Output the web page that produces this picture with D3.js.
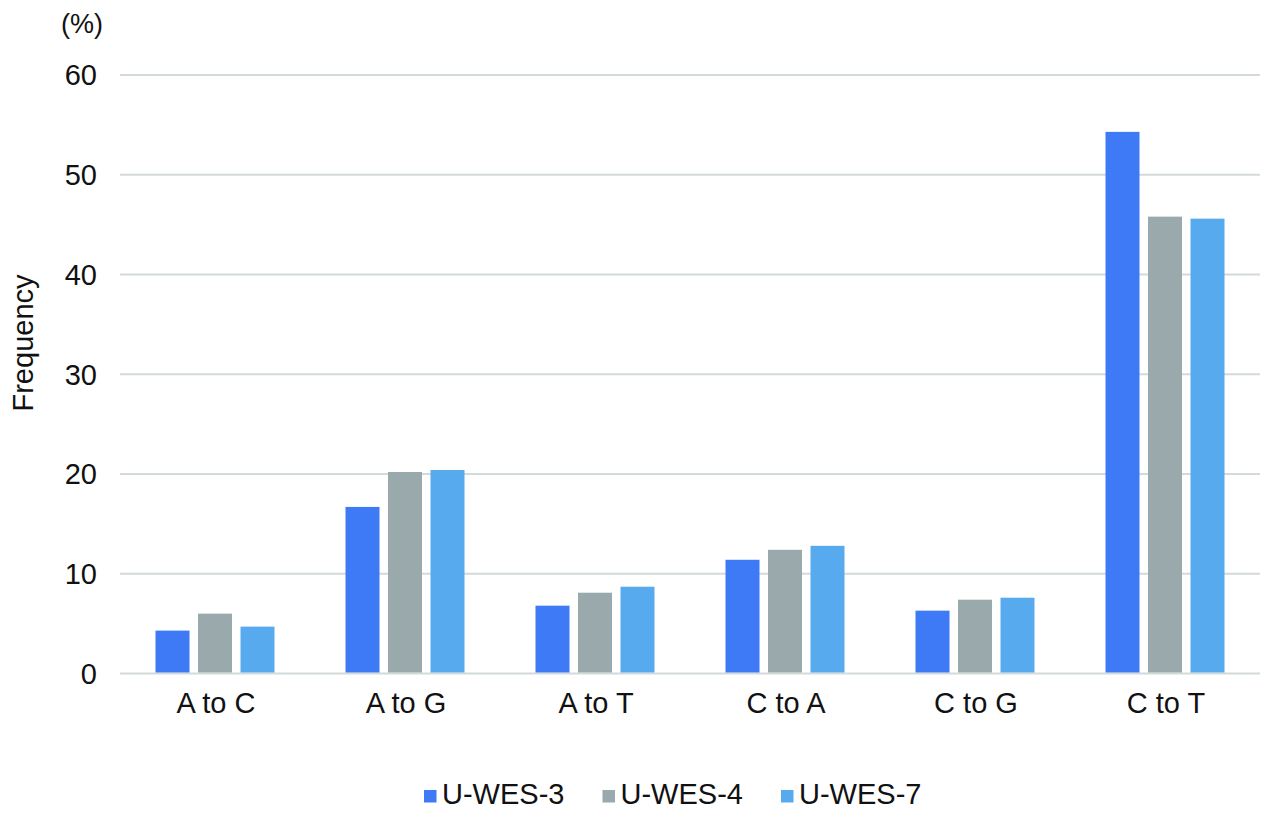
<!DOCTYPE html>
<html>
<head>
<meta charset="utf-8">
<script src="https://cdn.jsdelivr.net/npm/d3@7"></script>
<style>
  html, body { margin: 0; padding: 0; background: #ffffff; }
  svg text { font-family: "Liberation Sans", Arial, Helvetica, sans-serif; fill: #111; }
</style>
</head>
<body>
<svg id="chart" width="1280" height="825"></svg>
<script>
const categories = ["A to C", "A to G", "A to T", "C to A", "C to G", "C to T"];
const seriesNames = ["U-WES-3", "U-WES-4", "U-WES-7"];
const uwes3 = [4.3, 16.7, 6.8, 11.4, 6.3, 54.3];
const uwes4 = [6.0, 20.2, 8.1, 12.4, 7.4, 45.8];
const uwes7 = [4.7, 20.4, 8.7, 12.8, 7.6, 45.6];
const yTicks = [0, 10, 20, 30, 40, 50, 60];
const colors = ["#3f7af6", "#9aaaac", "#58aaee"];

const seriesValues = [uwes3, uwes4, uwes7];
const svg = d3.select("#chart");
const fontSize = 29;

const x0 = d3.scaleBand().domain(categories).range([120, 1260]).padding(0);
const x1 = d3.scaleBand().domain(seriesNames).range([35.5, 154.5]).paddingInner(0.2).paddingOuter(0);
const y = d3.scaleLinear().domain([0, 60]).range([673.5, 75]);

// gridlines
svg.append("g").selectAll("line").data(yTicks).join("line")
  .attr("x1", 120).attr("x2", 1260)
  .attr("y1", d => y(d)).attr("y2", d => y(d))
  .attr("stroke", "#d3dada").attr("stroke-width", 2);

// y tick labels
svg.append("g").selectAll("text").data(yTicks).join("text")
  .attr("x", 97).attr("y", d => y(d)).attr("dy", "0.36em")
  .attr("text-anchor", "end").attr("font-size", fontSize)
  .text(d => d);

// bars
const groups = svg.append("g").selectAll("g").data(categories).join("g")
  .attr("transform", d => `translate(${x0(d)},0)`);
groups.selectAll("rect")
  .data((c, i) => seriesNames.map((s, k) => ({ s, k, v: seriesValues[k][i] })))
  .join("rect")
  .attr("x", d => x1(d.s))
  .attr("width", x1.bandwidth())
  .attr("y", d => y(d.v))
  .attr("height", d => y(0) - y(d.v) - 1)
  .attr("fill", d => colors[d.k]);

// category labels
svg.append("g").selectAll("text").data(categories).join("text")
  .attr("x", d => x0(d) + x0.bandwidth() / 2 + 1)
  .attr("y", 712.5)
  .attr("text-anchor", "middle").attr("font-size", fontSize)
  .text(d => d);

// unit label
svg.append("text").attr("x", 82).attr("y", 33).attr("text-anchor", "middle")
  .attr("font-size", 27).text("(%)");

// y axis title
svg.append("text")
  .attr("transform", "translate(33,343) rotate(-90)")
  .attr("text-anchor", "middle").attr("font-size", fontSize)
  .text("Frequency");

// legend
const legendX = [424, 602.5, 781];
const legend = svg.append("g").selectAll("g").data(seriesNames).join("g")
  .attr("transform", (d, i) => `translate(${legendX[i]},0)`);
legend.append("rect").attr("x", 0).attr("y", 790).attr("width", 12.5).attr("height", 12.5)
  .attr("fill", (d, i) => colors[i]);
legend.append("text").attr("x", 18).attr("y", 803.5).attr("font-size", fontSize)
  .text(d => d);
</script>
</body>
</html>
